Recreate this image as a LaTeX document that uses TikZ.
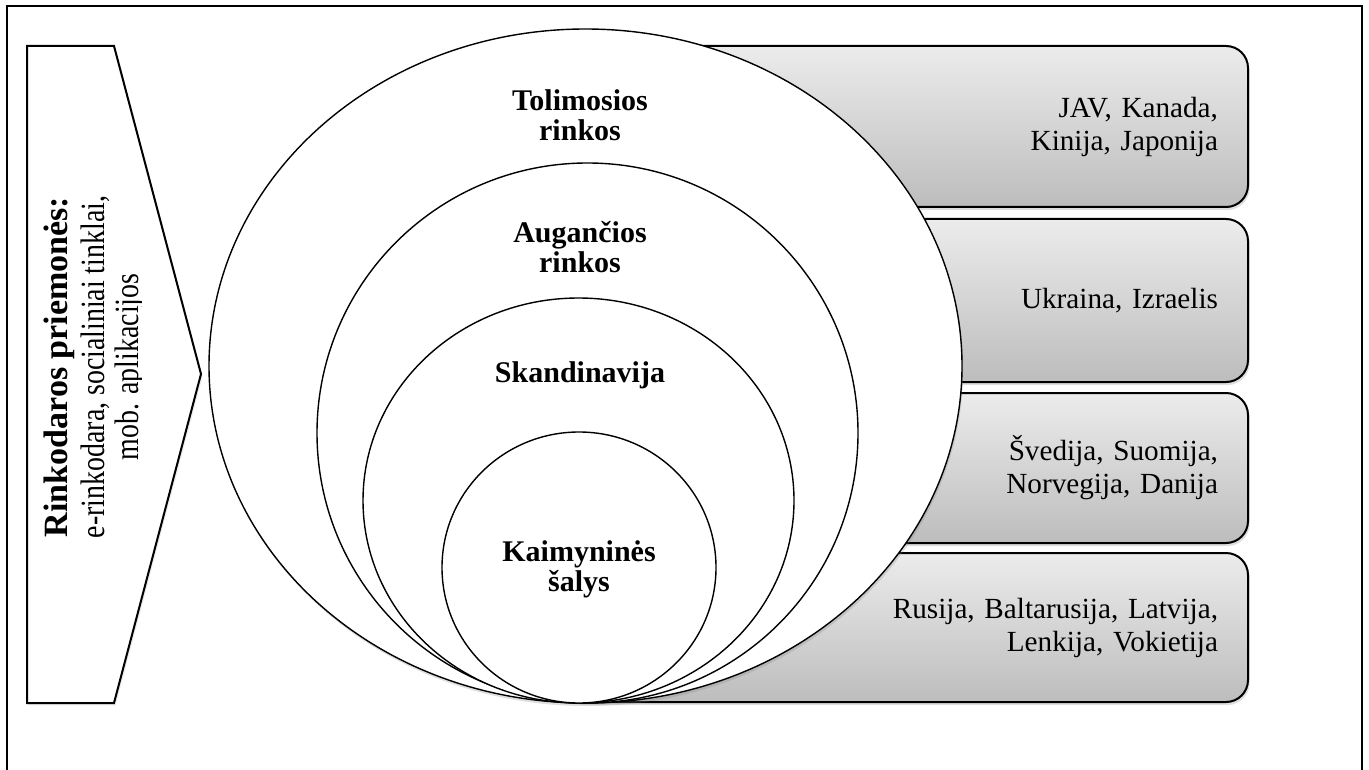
\documentclass[tikz,border=0pt]{standalone}
\usepackage{fontspec}
\setmainfont{Liberation Serif}
\usetikzlibrary{shapes.geometric,shadows,shadings}
\newlength{\pxu}\setlength{\pxu}{0.5pt}
\begin{document}
\begin{tikzpicture}[x=0.5pt,y=-0.5pt,
  frame/.style={draw=black, line width=0.9pt},
  arrowshape/.style={draw=black, line width=1pt, fill=white, line join=miter,
    drop shadow={shadow xshift=0.8pt, shadow yshift=-1.2pt, opacity=0.15}},
  ring/.style={ellipse, draw=black, line width=0.7pt, fill=white, inner sep=0pt, outer sep=0pt},
  ringshadow/.style={drop shadow={shadow xshift=0.6pt, shadow yshift=-1.5pt, opacity=0.25}},
  cbox/.style={rectangle, rounded corners=11pt, draw=black, line width=1pt,
    top color=gray!15, bottom color=gray!52, inner xsep=15pt, inner ysep=0pt,
    minimum width=688\pxu, text width=628\pxu, align=right,
    font=\fontsize{14.6}{16.5}\selectfont,
    drop shadow={shadow xshift=0.8pt, shadow yshift=-1.5pt, opacity=0.25}},
  rlabel/.style={align=center, inner sep=0pt, font=\fontsize{15}{15}\selectfont\bfseries},
  lbold/.style={rotate=90, anchor=base, inner sep=0pt, font=\fontsize{17}{17}\selectfont\bfseries},
  lreg/.style={rotate=90, anchor=base, inner sep=0pt, font=\fontsize{17}{17}\selectfont}
]
\useasboundingbox (0,0) rectangle (1369,770);
\fill[white] (0,0) rectangle (1369,770);

% outer frame (open at the bottom)
\draw[frame] (7,770) -- (7,6) -- (1362,6) -- (1362,770);

% left arrow shape
\draw[arrowshape] (27,46) -- (114,46) -- (201,374) -- (114,703) -- (27,703) -- cycle;
\node[lbold] (lt1) at (67,367) {Rinkodaros priemonės:};
\node[lreg] (lt2) at (104,367) {\scalebox{0.82}[1]{e-rinkodara, socialiniai tinklai,}};
\begin{scope}
  \clip (0,0) rectangle (141.5,770);
  \node[lreg] (lt3) at (138,367) {\scalebox{0.82}[1]{mob. aplikacijos}};
\end{scope}

% right boxes
\node[cbox, minimum height=161\pxu] (b1) at (904,126.5) {JAV, Kanada,\\Kinija, Japonija};
\node[cbox, minimum height=163\pxu] (b2) at (904,300.5) {Ukraina, Izraelis};
\node[cbox, minimum height=150\pxu] (b3) at (904,468) {Švedija, Suomija,\\Norvegija, Danija};
\node[cbox, minimum height=149\pxu] (b4) at (904,627.5) {Rusija, Baltarusija, Latvija,\\Lenkija, Vokietija};

% nested ellipses
\node[ring, ringshadow, minimum width=753\pxu, minimum height=674\pxu] (e1) at (585.5,366) {};
\node[ring, minimum width=541\pxu, minimum height=540\pxu] (e2) at (587.5,433) {};
\node[ring, minimum width=431\pxu, minimum height=405\pxu] (e3) at (578.5,500.5) {};
\node[ring, minimum width=274\pxu, minimum height=271\pxu] (e4) at (579,567.5) {};

% ellipse labels
\node[rlabel] (l1) at (580,115) {Tolimosios\\rinkos};
\node[rlabel] (l2) at (580,247) {Augančios\\rinkos};
\node[rlabel] (l3) at (580,375) {Skandinavija};
\node[rlabel] (l4) at (579,569) {Kaimyninės\\šalys};
\end{tikzpicture}
\end{document}
